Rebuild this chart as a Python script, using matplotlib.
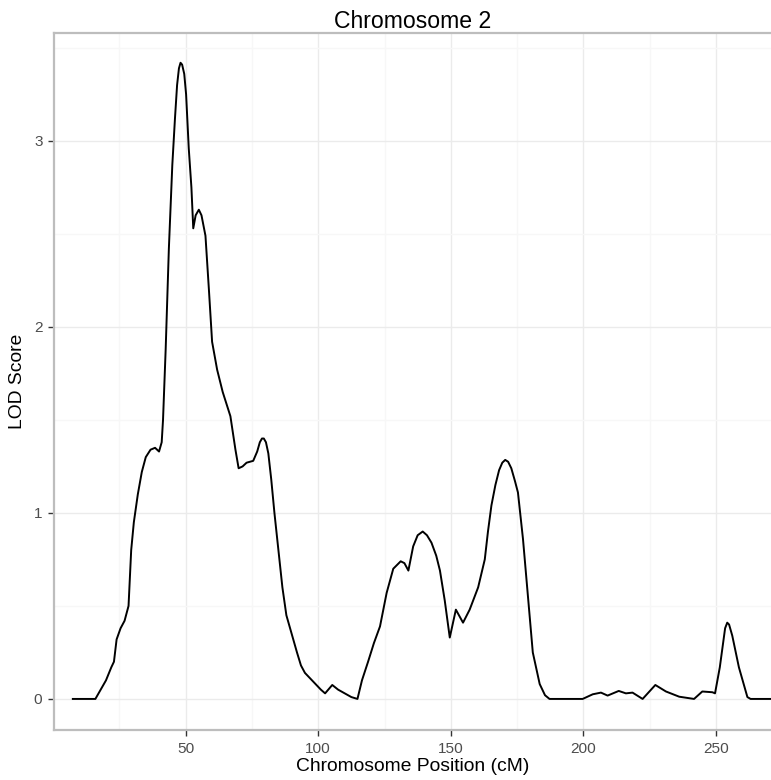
import numpy as np
import matplotlib
matplotlib.use("Agg")
import matplotlib.pyplot as plt

plt.rcParams["font.family"] = ["Liberation Sans", "DejaVu Sans"]

# LOD profile along chromosome 2 (position in cM, LOD score)
pos_cm = [7.5, 10, 13, 16, 18, 20, 22, 23, 24, 25.5, 27, 28.5, 29.5, 30.5, 32, 33.5,
          35, 36.8, 38.5, 40, 41, 41.5, 42.5, 43.7, 45, 46, 46.8, 47.5, 48.1, 48.7,
          49.5, 50.2, 51.2, 52.2, 52.9, 53.8, 55, 56, 57.5, 58.8, 60, 61.9, 64, 66.9,
          68.8, 70, 71.5, 73, 75.5, 77, 78, 78.8, 79.5, 80.3, 81.2, 82.3, 83.5, 85,
          86.5, 88, 90, 92, 93.5, 95, 97, 99, 101, 102.6, 105.3, 107.5, 110, 112.5,
          114.8, 116.5, 118.8, 121, 123.3, 125.8, 128.3, 131.1, 132.5, 134.0, 135.8,
          137.5, 139.4, 141, 142.7, 144.5, 145.9, 147.7, 149.6, 151.9, 154.6, 157.1,
          160.3, 162.8, 164, 165.3, 166.8, 168.2, 169.4, 170.5, 171.6, 172.8, 174.2,
          175.3, 177.2, 179.1, 180.9, 183.5, 185.5, 187.2, 199.7, 203.5, 206.6,
          209.1, 213.3, 216, 218.5, 222.3, 227.1, 231.1, 236.1, 241.7, 244.8, 248.6,
          249.6, 251.4, 253.4, 254.2, 254.9, 256.1, 258.6, 261.8, 263, 271]
lod = [0, 0, 0, 0.0, 0.05, 0.1, 0.17, 0.2, 0.32, 0.38, 0.42, 0.5, 0.8, 0.95, 1.1, 1.22,
       1.3, 1.34, 1.35, 1.33, 1.38, 1.5, 1.88, 2.42, 2.87, 3.12, 3.3, 3.39, 3.42, 3.41,
       3.36, 3.25, 2.96, 2.75, 2.53, 2.6, 2.63, 2.6, 2.49, 2.2, 1.92, 1.77, 1.65, 1.52,
       1.34, 1.24, 1.25, 1.27, 1.28, 1.33, 1.38, 1.40, 1.40, 1.38, 1.32, 1.18, 1.0,
       0.8, 0.6, 0.45, 0.35, 0.25, 0.18, 0.14, 0.11, 0.08, 0.05, 0.03, 0.075, 0.05,
       0.03, 0.01, 0.0, 0.1, 0.2, 0.3, 0.39, 0.57, 0.70, 0.74, 0.73, 0.69, 0.82,
       0.88, 0.90, 0.88, 0.84, 0.77, 0.69, 0.53, 0.33, 0.48, 0.41, 0.48, 0.60, 0.75,
       0.9, 1.04, 1.15, 1.23, 1.27, 1.285, 1.275, 1.24, 1.17, 1.11, 0.86, 0.55, 0.25,
       0.08, 0.02, 0.0, 0.0, 0.025, 0.034, 0.018, 0.043, 0.03, 0.034, 0.0, 0.075,
       0.04, 0.012, 0.0, 0.04, 0.036, 0.03, 0.17, 0.38, 0.41, 0.40, 0.34, 0.17, 0.01,
       0.0, 0]

x_ticks = [50, 100, 150, 200, 250]
y_ticks = [0, 1, 2, 3]

fig = plt.figure(figsize=(7.71, 7.8), dpi=100)
ax = fig.add_axes([54 / 771, 50 / 780, 1 - 54 / 771, (730 - 33) / 780])

ax.plot(pos_cm, lod, color="black", lw=1.4, solid_joinstyle="round")

ax.set_xlim(0.4, 270.7)
ax.set_ylim(-0.167, 3.58)
ax.set_xticks(x_ticks)
ax.set_yticks(y_ticks)
ax.set_xticks([25, 75, 125, 175, 225], minor=True)
ax.set_yticks([0.5, 1.5, 2.5, 3.5], minor=True)
ax.grid(True, which="major", color="#ebebeb", lw=1.0)
ax.grid(True, which="minor", color="#f7f7f7", lw=1.0)
ax.set_axisbelow(True)

for side in ["left", "bottom", "top"]:
    ax.spines[side].set_color("#bdbdbd")
    ax.spines[side].set_linewidth(1.6)
ax.spines["right"].set_visible(False)

ax.tick_params(which="major", length=4.3, width=1.0, color="#333333",
               labelsize=11.1, labelcolor="#4d4d4d", pad=4)
ax.tick_params(which="minor", length=0)

ax.set_xlabel("Chromosome Position (cM)", fontsize=13.9, labelpad=2)
ax.set_ylabel("LOD Score", fontsize=13.9, labelpad=6)
ax.set_title("Chromosome 2", fontsize=16.6, pad=3)

fig.savefig("out.png", dpi=100)
